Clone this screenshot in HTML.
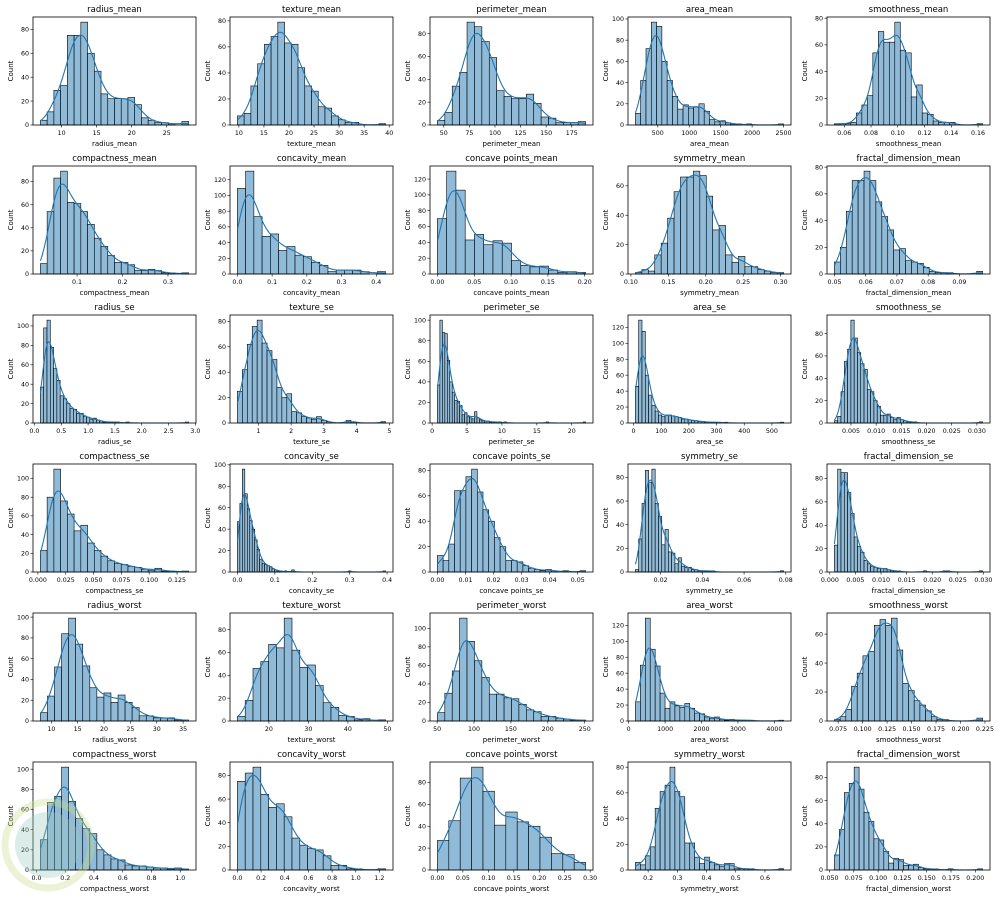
<!DOCTYPE html>
<html><head><meta charset="utf-8">
<style>
html,body{margin:0;padding:0;background:#fff;}
svg{display:block;font-family:"DejaVu Sans","Liberation Sans",sans-serif;}
</style></head>
<body>
<svg id="chart" width="1000" height="897" viewBox="0 0 1000 897" xmlns="http://www.w3.org/2000/svg"></svg>
<script>
const names = ["radius_mean","texture_mean","perimeter_mean","area_mean","smoothness_mean",
"compactness_mean","concavity_mean","concave points_mean","symmetry_mean","fractal_dimension_mean",
"radius_se","texture_se","perimeter_se","area_se","smoothness_se",
"compactness_se","concavity_se","concave points_se","symmetry_se","fractal_dimension_se",
"radius_worst","texture_worst","perimeter_worst","area_worst","smoothness_worst",
"compactness_worst","concavity_worst","concave points_worst","symmetry_worst","fractal_dimension_worst"];
const mins = [6.981,9.71,43.79,143.5,0.05263,0.01938,0,0,0.106,0.04996,
0.1115,0.3602,0.757,6.802,0.001713,0.002252,0,0,0.007882,0.0008948,
7.93,12.02,50.41,185.2,0.07117,0.02729,0,0,0.1565,0.05504];
const maxs = [28.11,39.28,188.5,2501,0.1634,0.3454,0.4268,0.2012,0.304,0.09744,
2.873,4.885,21.98,542.2,0.03113,0.1354,0.396,0.05279,0.07895,0.02984,
36.04,49.54,251.2,4254,0.2226,1.058,1.252,0.291,0.6638,0.2075];
const counts = [
[4,11,29,33,75,75,86,60,45,26,22,22,22,23,17,6,4,2,2,1,0,3],
[7,9,30,47,62,68,79,63,62,44,30,26,14,13,7,4,2,2,0,0,0,1],
[4,11,34,46,90,86,73,59,30,25,23,23,27,19,7,6,2,2,2,3],
[11,42,72,97,93,60,42,27,15,19,16,17,20,13,5,3,4,2,1,1,0,1,0,0,0,0,0,1],
[1,1,1,2,9,15,22,54,70,62,62,77,56,54,21,30,9,8,3,2,2,2,0,0,0,0,1],
[9,54,83,89,62,61,54,43,31,24,16,10,10,8,3,3,4,3,1,1,0,1],
[109,131,73,48,51,30,35,24,22,15,11,3,5,5,5,3,0,3],
[70,130,106,43,50,37,42,39,17,11,9,10,5,2,3,2],
[1,3,2,13,21,38,56,66,66,70,67,53,30,33,13,8,12,5,5,3,2,1,1],
[9,20,47,70,70,77,70,54,43,33,18,19,10,9,8,5,2,1,1,1,0,0,0,0,2],
[37,98,106,78,56,44,28,25,20,15,14,10,10,7,6,4,5,3,2,1,1,1,1,1,0,0,1,0,0,0,0,0,0,0,0,0,0,0,0,0,0,0,0,0,1],
[25,42,62,76,81,63,57,50,28,20,23,9,8,5,4,3,5,2,1,0,0,0,2,1,0,0,0,0,0,1],
[37,100,88,87,61,40,30,22,21,17,8,10,6,5,4,11,5,3,2,2,2,1,1,1,1,1,0,1,0,0,0,0,0,0,0,0,0,0,0,0,0,0,0,0,1,0,0,0,0,0,0,0,0,0,0,0,0,0,0,1],
[46,129,115,60,35,22,15,10,8,10,10,9,8,7,5,5,4,3,3,2,2,1,1,1,1,1,0,1,0,0,0,0,0,0,0,0,0,0,0,0,0,0,0,0,1],
[2,6,28,55,66,92,76,63,53,48,30,28,20,15,7,7,8,5,3,5,3,2,1,1,1,0,0,0,0,0,0,0,0,0,0,0,0,0,0,0,0,0,0,0,1],
[23,80,110,76,62,44,50,31,23,17,12,9,8,6,5,3,2,4,1,1,0,1],
[47,64,96,73,59,48,40,30,21,12,8,7,6,5,3,2,1,1,0,1,0,0,2,0,0,0,0,0,0,0,0,0,0,0,0,0,0,0,0,0,0,0,0,0,0,1,0,0,0,0,0,0,0,0,0,0,0,0,0,1],
[13,9,22,64,64,75,81,63,49,40,27,20,9,9,8,5,3,2,1,2,1,0,1,0,0,1],
[2,28,58,86,76,87,58,47,23,36,17,16,7,12,5,4,4,2,2,1,1,1,1,1,0,0,0,0,0,0,0,0,0,0,0,0,0,0,0,0,0,0,0,0,1],
[23,88,85,85,68,50,30,22,17,10,7,5,4,3,3,3,2,1,1,1,0,0,0,0,0,0,0,1,0,0,0,0,0,1,1,0,0,0,0,0,0,0,0,0,1],
[8,24,52,84,99,74,53,32,23,27,18,25,18,13,5,5,3,3,3,1,1],
[4,18,46,52,67,64,90,62,47,49,31,16,12,5,4,1,2,0,1],
[9,30,54,111,86,65,47,29,29,25,24,18,12,10,5,5,3,2,1,1],
[24,70,129,90,69,35,16,24,19,17,22,16,10,9,5,3,5,2,1,2,1,1,1,1,0,0,0,0,0,1],
[1,3,8,24,33,45,48,66,70,66,71,49,26,21,14,11,7,3,1,1,0,0,0,0,0,2],
[30,67,73,102,68,51,41,36,20,15,11,10,5,4,4,3,2,2,1,2,1],
[75,82,87,64,53,56,45,27,21,18,17,12,4,4,1,1,0,0,1],
[27,45,84,94,72,41,53,44,40,30,15,14,7],
[6,4,11,18,48,61,66,80,61,57,21,21,10,5,10,6,4,3,5,5,1,1,1,1,0,0,0,0,0,1],
[13,35,67,75,89,70,50,42,27,26,16,6,10,9,4,4,5,2,1,1,1,0,0,1,0,0,0,0,0,1]
];

const NS = "http://www.w3.org/2000/svg";
const svg = document.getElementById("chart");
const colLeft = [33,230,430,628,827], rowTop = [17,166,315,464,613,762];
const AW = 163, AH = 108;

function mk(tag, attrs, parent){ const e=document.createElementNS(NS,tag); for(const k in attrs) e.setAttribute(k,attrs[k]); (parent||svg).appendChild(e); return e; }
function niceStep(range){ const p=Math.pow(10,Math.floor(Math.log10(range))-1); for(const m of [1,2,2.5,5,10,20,25,50,100]){ if(range/(m*p)<=7) return m*p; } return 100*p; }
function decimals(step){ let d=0; while(Math.abs(Math.round(step*Math.pow(10,d))-step*Math.pow(10,d))>1e-9 && d<6) d++; return d; }

names.forEach((name, idx) => {
  const L = colLeft[idx%5], T = rowTop[Math.floor(idx/5)];
  const c = counts[idx], lo = mins[idx], hi = maxs[idx], nb = c.length, bw = (hi-lo)/nb;
  const N = c.reduce((a,b)=>a+b,0);
  // KDE from histogram
  let mean=0; c.forEach((n,i)=>mean+=n*(lo+(i+.5)*bw)); mean/=N;
  let v=0; c.forEach((n,i)=>{const d=lo+(i+.5)*bw-mean; v+=n*d*d;}); const sd=Math.sqrt(v/N);
  const h = sd*Math.pow(N,-0.2);
  const kx=[], ky=[];
  for(let k=0;k<=150;k++){ const x=lo+(hi-lo)*k/150; let s=0; c.forEach((n,i)=>{const z=(x-(lo+(i+.5)*bw))/h; s+=n*Math.exp(-z*z/2);}); kx.push(x); ky.push(s*bw/(h*Math.sqrt(2*Math.PI))); }
  const ymaxData = Math.max(Math.max(...c), Math.max(...ky));
  const ylimTop = ymaxData*1.05;
  const xmin = lo-0.05*(hi-lo), xmax = hi+0.05*(hi-lo);
  const X = x => L + (x-xmin)/(xmax-xmin)*AW;
  const Y = y => T + AH - y/ylimTop*AH;

  const g = mk("g",{});
  
  

  c.forEach((n,i)=>{
    if(n<=0) return;
    const r = mk("rect",{x:X(lo+i*bw),y:Y(n),width:X(lo+(i+1)*bw)-X(lo+i*bw),height:Y(0)-Y(n),fill:"#8fbbd9",stroke:"#000","stroke-width":0.6},g);
    
    
  });
  const pts = kx.map((x,k)=>X(x).toFixed(2)+","+Y(ky[k]).toFixed(2)).join(" ");
  const line = mk("polyline",{points:pts,fill:"none",stroke:"#1f77b4","stroke-width":1.1},g);
  
  

  const frame = mk("rect",{x:L,y:T,width:AW,height:AH,fill:"none",stroke:"#000","stroke-width":0.8},g);
  
  

  // x ticks
  const xs = niceStep(xmax-xmin), xd = decimals(xs);
  for(let t=Math.ceil(xmin/xs-1e-9)*xs; t<=xmax+1e-12; t+=xs){
    const px=X(t);
    mk("line",{x1:px,x2:px,y1:T+AH,y2:T+AH+2.5,stroke:"#000","stroke-width":0.6},g);
    const tl = mk("text",{x:px,y:T+AH+10,"font-size":6.3,"text-anchor":"middle",fill:"#000"},g);
    tl.textContent = (Math.abs(t)<1e-12?0:t).toFixed(xd);
    
    
  }
  // y ticks
  const ys = niceStep(ylimTop), yd = decimals(ys);
  for(let t=0; t<=ylimTop+1e-9; t+=ys){
    const py=Y(t);
    mk("line",{x1:L-2.5,x2:L,y1:py,y2:py,stroke:"#000","stroke-width":0.6},g);
    const tl = mk("text",{x:L-4,y:py+2.2,"font-size":6.3,"text-anchor":"end",fill:"#000"},g);
    tl.textContent = t.toFixed(yd);
    
    
  }
  const xl = mk("text",{x:L+AW/2,y:T+AH+21,"font-size":7,"text-anchor":"middle",fill:"#000"},g);
  xl.textContent = name;
  
  
  const yl = mk("text",{x:0,y:0,"font-size":7,"text-anchor":"middle",fill:"#000",transform:`translate(${L-20},${T+AH/2}) rotate(-90)`},g);
  yl.textContent = "Count";
  
  
  const tt = mk("text",{x:L+AW/2,y:T-5,"font-size":8.5,"text-anchor":"middle",fill:"#000"},g);
  tt.textContent = name;
  
  
});

// faint watermark
const wm = mk("g",{opacity:0.35});


mk("circle",{cx:48,cy:845,r:43,fill:"none",stroke:"#c9dc8a","stroke-width":7},wm);
mk("circle",{cx:48,cy:845,r:33,fill:"#9cc9c0"},wm);
</script>
</body></html>
